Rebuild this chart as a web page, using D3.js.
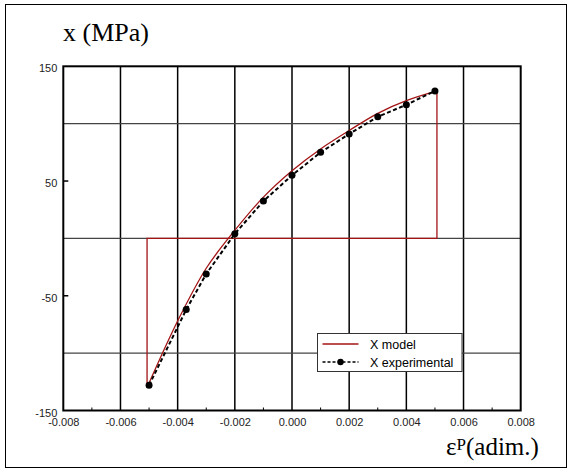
<!DOCTYPE html>
<html>
<head>
<meta charset="utf-8">
<script src="https://cdn.jsdelivr.net/npm/d3@7"></script>
<style>
  body { margin: 0; background: #fff; }
  svg { display: block; }
  .tick-label { font-family: "Liberation Sans", Arial, sans-serif; font-size: 11px; fill: #222; }
  .title { font-family: "Liberation Serif", "Times New Roman", serif; }
</style>
</head>
<body>
<div id="chart"></div>
<script>
// data
var expStrain = [-0.005, -0.0037, -0.003, -0.002, -0.001, 0.000, 0.001, 0.002, 0.003, 0.004, 0.005];
var expStress = [-128, -62, -31, 4, 32.5, 55, 75, 91, 106, 116.5, 128.5];

var modelStrain = [-0.00507, -0.004, -0.003, -0.002, -0.001, 0.000, 0.001, 0.002, 0.003, 0.004, 0.00507];
var modelStress = [-130, -72, -26, 7, 36, 59, 78, 94, 109, 120, 128.5];

// the red loop: vertical at -eps, back along zero, vertical at +eps
var loopStrain = [-0.00507, -0.00507, 0.00507, 0.00507];
var loopStress = [-130, 0, 0, 128.5];

var xTicks = [-0.008, -0.006, -0.004, -0.002, 0.000, 0.002, 0.004, 0.006, 0.008];
var xMinor = [-0.007, -0.005, -0.003, -0.001, 0.001, 0.003, 0.005, 0.007];
var xGrid = [-0.006, -0.004, -0.002, 0.000, 0.002, 0.004, 0.006];
var yTicks = [150, 50, -50, -150];
var yGrid = [100, 0, -100];

var width = 572, height = 472;
var red = "#a31515";

var svg = d3.select("#chart").append("svg")
  .attr("width", width)
  .attr("height", height);

// outer frame
svg.append("rect")
  .attr("x", 5.5).attr("y", 4.5)
  .attr("width", 561).attr("height", 463)
  .attr("fill", "none").attr("stroke", "#000").attr("stroke-width", 1);

var x = d3.scaleLinear().domain([-0.008, 0.008]).range([63.3, 520.7]);
var y = d3.scaleLinear().domain([-150, 150]).range([410.5, 66.3]);

// grid
svg.append("g").selectAll("line")
  .data(xGrid).enter().append("line")
  .attr("x1", function(d) { return x(d); })
  .attr("x2", function(d) { return x(d); })
  .attr("y1", y(150)).attr("y2", y(-150))
  .attr("stroke", "#000").attr("stroke-width", 1.5);

svg.append("g").selectAll("line")
  .data(yGrid).enter().append("line")
  .attr("x1", x(-0.008)).attr("x2", x(0.008))
  .attr("y1", function(d) { return y(d); })
  .attr("y2", function(d) { return y(d); })
  .attr("stroke", "#444").attr("stroke-width", 1.2);

// minor ticks
svg.append("g").selectAll("line")
  .data(xMinor).enter().append("line")
  .attr("x1", function(d) { return x(d); })
  .attr("x2", function(d) { return x(d); })
  .attr("y1", y(-150)).attr("y2", y(-150) - 3)
  .attr("stroke", "#000").attr("stroke-width", 1);

svg.append("g").selectAll("line")
  .data([50, -50]).enter().append("line")
  .attr("x1", x(-0.008)).attr("x2", x(-0.008) + 5)
  .attr("y1", function(d) { return y(d); })
  .attr("y2", function(d) { return y(d); })
  .attr("stroke", "#000").attr("stroke-width", 1.5);

// plot frame
svg.append("rect")
  .attr("x", x(-0.008)).attr("y", y(150))
  .attr("width", x(0.008) - x(-0.008))
  .attr("height", y(-150) - y(150))
  .attr("fill", "none").attr("stroke", "#000").attr("stroke-width", 2);

// axes labels
var xAxis = d3.axisBottom(x)
  .tickValues(xTicks)
  .tickSize(0)
  .tickPadding(8)
  .tickFormat(function(d) { return d.toFixed(3); });

var gx = svg.append("g")
  .attr("transform", "translate(0," + y(-150) + ")")
  .call(xAxis);
gx.select(".domain").remove();
gx.selectAll("text").attr("class", "tick-label").attr("fill", null);

var yAxis = d3.axisLeft(y)
  .tickValues(yTicks)
  .tickSize(0)
  .tickPadding(6)
  .tickFormat(function(d) { return String(d); });

var gy = svg.append("g")
  .attr("transform", "translate(" + x(-0.008) + ",2)")
  .call(yAxis);
gy.select(".domain").remove();
gy.selectAll("text").attr("class", "tick-label").attr("fill", null);

// model
var loopData = loopStrain.map(function(d, i) { return [d, loopStress[i]]; });
var modelData = modelStrain.map(function(d, i) { return [d, modelStress[i]]; });
var expData = expStrain.map(function(d, i) { return [d, expStress[i]]; });

var line = d3.line()
  .x(function(d) { return x(d[0]); })
  .y(function(d) { return y(d[1]); });

svg.append("path")
  .attr("d", line(loopData))
  .attr("fill", "none").attr("stroke", red).attr("stroke-width", 1.3);

svg.append("path")
  .attr("d", line.curve(d3.curveCatmullRom)(modelData))
  .attr("fill", "none").attr("stroke", red).attr("stroke-width", 1.3);

line.curve(d3.curveLinear);

// experimental
svg.append("path")
  .attr("d", line(expData))
  .attr("fill", "none").attr("stroke", "#000")
  .attr("stroke-width", 2).attr("stroke-dasharray", "4,2.5");

svg.append("g").selectAll("circle")
  .data(expData).enter().append("circle")
  .attr("cx", function(d) { return x(d[0]); })
  .attr("cy", function(d) { return y(d[1]); })
  .attr("r", 3.5)
  .attr("fill", "#000");

// legend
var legend = svg.append("g").attr("transform", "translate(317.5,333.5)");
legend.append("rect")
  .attr("width", 144.5).attr("height", 38)
  .attr("fill", "#fff").attr("stroke", "#333").attr("stroke-width", 1);

legend.append("line")
  .attr("x1", 5).attr("x2", 41).attr("y1", 10.5).attr("y2", 10.5)
  .attr("stroke", red).attr("stroke-width", 1.5);
legend.append("line")
  .attr("x1", 5).attr("x2", 41).attr("y1", 28.5).attr("y2", 28.5)
  .attr("stroke", "#000").attr("stroke-width", 1.5).attr("stroke-dasharray", "3,2");
legend.append("circle")
  .attr("cx", 23).attr("cy", 28.5).attr("r", 3.2).attr("fill", "#000");

legend.append("text")
  .attr("x", 52.5).attr("y", 15)
  .attr("font-family", "Liberation Sans, Arial, sans-serif")
  .attr("font-size", 12.5)
  .text("X model");
legend.append("text")
  .attr("x", 52.5).attr("y", 33)
  .attr("font-family", "Liberation Sans, Arial, sans-serif")
  .attr("font-size", 12.5)
  .text("X experimental");

// titles
svg.append("text")
  .attr("class", "title")
  .attr("x", 63).attr("y", 40.5)
  .attr("font-size", 26)
  .text("x (MPa)");

var xt = svg.append("text")
  .attr("class", "title")
  .attr("x", 446).attr("y", 455)
  .attr("font-size", 25);
xt.append("tspan").text("ε");
xt.append("tspan").attr("dy", -5).attr("font-size", 17).text("P");
xt.append("tspan").attr("dy", 5).text("(adim.)");
</script>
</body>
</html>
